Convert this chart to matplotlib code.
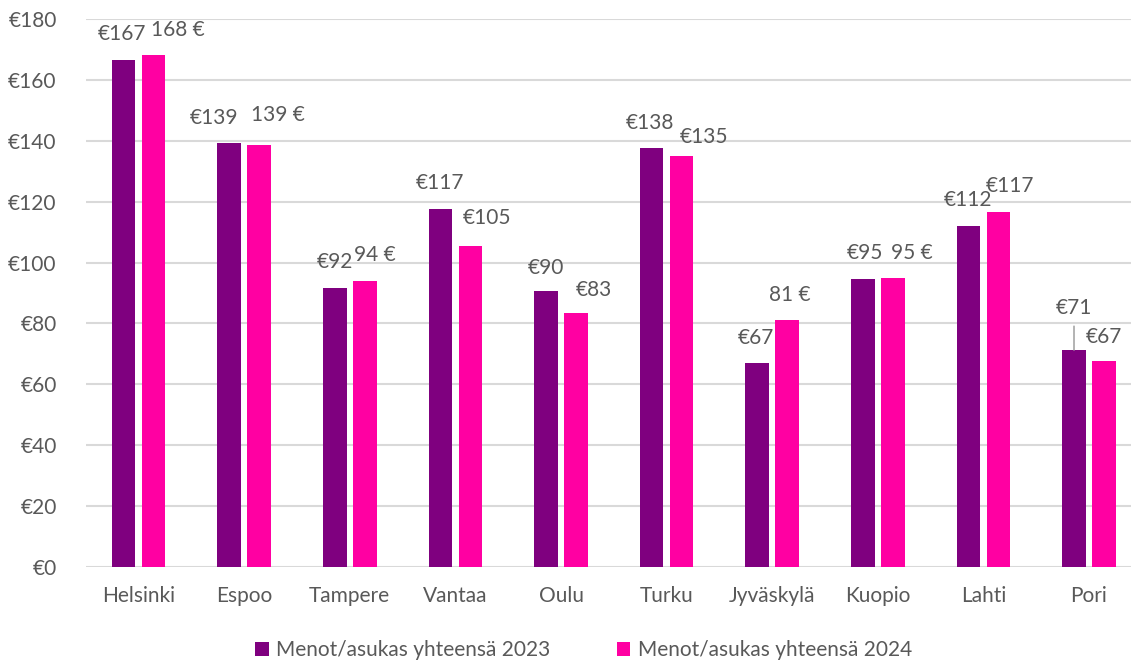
import matplotlib
matplotlib.use("Agg")
import matplotlib.pyplot as plt
import numpy as np

cities = ["Helsinki", "Espoo", "Tampere", "Vantaa", "Oulu", "Turku",
          "Jyväskylä", "Kuopio", "Lahti", "Pori"]
values_2023 = [166.6, 139.3, 91.7, 117.6, 90.7, 137.6, 67.0, 94.6, 112.0, 71.3]
values_2024 = [168.2, 138.6, 94.0, 105.4, 83.4, 135.0, 81.1, 94.9, 116.6, 67.7]
labels_2023 = ["€167", "€139", "€92", "€117", "€90", "€138", "€67", "€95", "€112", "€71"]
labels_2024 = ["168 €", "139 €", "94 €", "€105", "€83", "€135", "81 €", "95 €", "€117", "€67"]
series_names = ["Menot/asukas yhteensä 2023", "Menot/asukas yhteensä 2024"]
yticks = [0, 20, 40, 60, 80, 100, 120, 140, 160, 180]

# label offsets (pixels) relative to bar top centre (style)
off_2023 = [(-2, 26), (-15, 25), (0, 26), (0, 26), (0, 23), (-2, 25), (-1, 25), (2, 26), (0, 26), (0, 42)]
off_2024 = [(24, 25), (19, 30), (10, 26), (17, 28), (18, 23), (22, 19), (3, 25), (19, 25), (12, 26), (0, 24)]

c23 = "#7F007F"
c24 = "#FF00A2"
txt = "#595959"
FONT = "Lato"

W, H = 1131, 663
fig = plt.figure(figsize=(W / 100, H / 100), dpi=100)
ax = fig.add_axes([85.8 / W, 96 / H, 1056 / W, 548 / H])

x = np.arange(len(cities))
bw = 0.223
off = 0.142
b1 = ax.bar(x - off, values_2023, bw, color=c23, zorder=3, label=series_names[0])
b2 = ax.bar(x + off, values_2024, bw, color=c24, zorder=3, label=series_names[1])

ax.set_xlim(-0.5, len(cities) - 0.5)
ax.set_ylim(0, 180)
ax.set_yticks(yticks)
ax.set_yticklabels([f"€{v}" for v in yticks])
ax.set_xticks(x)
ax.set_xticklabels(cities)
ax.tick_params(axis="both", length=0, labelsize=15, colors=txt)
ax.tick_params(axis="y", pad=21)
ax.tick_params(axis="x", pad=14)
for lab in ax.get_xticklabels() + ax.get_yticklabels():
    lab.set_fontfamily(FONT)
ax.grid(axis="y", color="#D9D9D9", linewidth=1.5, zorder=0)
for s in ax.spines.values():
    s.set_visible(False)

for i in range(len(cities)):
    dx, dy = off_2023[i]
    kw = {}
    if i == len(cities) - 1:
        kw = dict(arrowprops=dict(arrowstyle="-", color="#A6A6A6", lw=1.2,
                                  shrinkA=4, shrinkB=0))
    ax.annotate(labels_2023[i], xy=(x[i] - off, values_2023[i]),
                xytext=(dx, dy), textcoords="offset pixels",
                ha="center", va="center", fontsize=15, color=txt,
                fontfamily=FONT, zorder=5, **kw)
    dx, dy = off_2024[i]
    ax.annotate(labels_2024[i], xy=(x[i] + off, values_2024[i]),
                xytext=(dx, dy), textcoords="offset pixels",
                ha="center", va="center", fontsize=15, color=txt,
                fontfamily=FONT, zorder=5)

leg = fig.legend(handles=[b1, b2], loc="center", bbox_to_anchor=(0.516, 0.019),
                 ncol=2, frameon=False, handlelength=0.65, handleheight=0.65,
                 handletextpad=0.35, columnspacing=3.2,
                 prop={"family": FONT, "size": 15})
for t in leg.get_texts():
    t.set_color(txt)

fig.savefig("out.png", dpi=100)
